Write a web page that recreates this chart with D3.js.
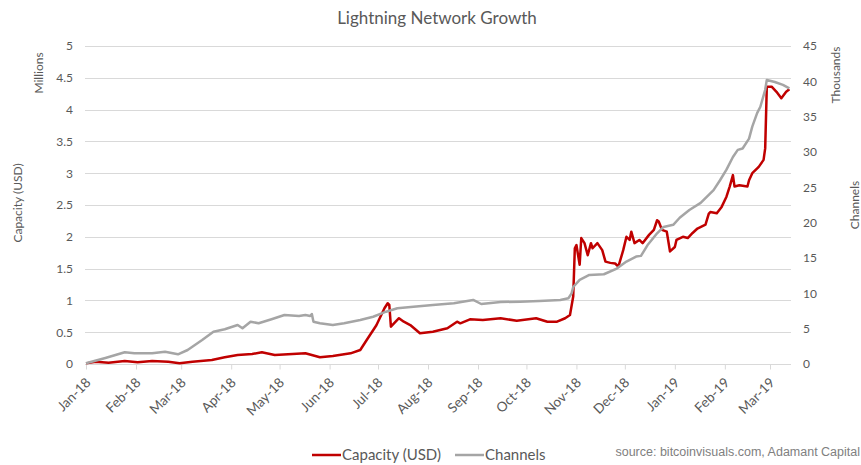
<!DOCTYPE html>
<html>
<head>
<meta charset="utf-8">
<script src="https://cdn.jsdelivr.net/npm/d3@7"></script>
<style>
  html, body { margin: 0; padding: 0; background: #ffffff; }
  svg { display: block; }
</style>
</head>
<body>
<svg id="chart" width="861" height="465"></svg>
<script>
// Lightning Network capacity (USD, millions) and open channels (thousands)
const capacityDates = [
  "2018-01-01","2018-01-07","2018-01-15","2018-01-25","2018-02-02","2018-02-11","2018-02-21","2018-02-28",
  "2018-03-08","2018-03-20","2018-03-28","2018-04-05","2018-04-14","2018-04-20","2018-04-28","2018-05-09",
  "2018-05-17","2018-05-26","2018-06-03","2018-06-14","2018-06-20","2018-06-24","2018-06-30","2018-07-05",
  "2018-07-07","2018-07-08","2018-07-09","2018-07-14","2018-07-17","2018-07-21","2018-07-27","2018-08-04",
  "2018-08-13","2018-08-19","2018-08-21","2018-08-27","2018-09-04","2018-09-15","2018-09-25","2018-10-07",
  "2018-10-14","2018-10-20","2018-10-25","2018-10-28","2018-10-30","2018-10-31","2018-11-01","2018-11-03",
  "2018-11-04","2018-11-06","2018-11-08","2018-11-10","2018-11-11","2018-11-14","2018-11-17","2018-11-19",
  "2018-11-22","2018-11-25","2018-11-27","2018-11-30","2018-12-02","2018-12-04","2018-12-05","2018-12-07",
  "2018-12-10","2018-12-12","2018-12-16","2018-12-19","2018-12-21","2018-12-22","2018-12-24","2018-12-27",
  "2018-12-29","2019-01-01","2019-01-02","2019-01-06","2019-01-09","2019-01-12","2019-01-15","2019-01-20",
  "2019-01-22","2019-01-23","2019-01-27","2019-01-30","2019-02-02","2019-02-04","2019-02-06","2019-02-07",
  "2019-02-10","2019-02-15","2019-02-16","2019-02-18","2019-02-22","2019-02-25","2019-02-26","2019-02-27",
  "2019-03-02","2019-03-05","2019-03-08","2019-03-11","2019-03-13"
];
const capacityValues = [
  0.01,0.036,0.02,0.047,0.027,0.047,0.036,0.011,
  0.036,0.063,0.105,0.142,0.157,0.184,0.142,0.157,
  0.168,0.105,0.126,0.168,0.22,0.377,0.61,0.876,
  0.955,0.93,0.586,0.72,0.665,0.613,0.483,0.508,
  0.561,0.665,0.64,0.703,0.692,0.719,0.681,0.719,
  0.665,0.665,0.719,0.77,1.06,1.82,1.87,1.56,
  1.98,1.90,1.71,1.90,1.82,1.90,1.79,1.61,
  1.59,1.58,1.53,1.79,2.00,1.95,2.08,1.90,
  1.95,1.90,2.03,2.11,2.26,2.24,2.11,2.08,
  1.77,1.84,1.95,2.00,1.98,2.06,2.13,2.19,
  2.36,2.39,2.37,2.47,2.63,2.79,2.97,2.79,
  2.81,2.79,2.89,3.00,3.10,3.21,3.39,4.36,
  4.36,4.28,4.18,4.28,4.32
];

const channelDates = [
  "2018-01-01","2018-01-13","2018-01-25","2018-01-31","2018-02-11","2018-02-19","2018-02-27","2018-03-05",
  "2018-03-14","2018-03-21","2018-03-28","2018-04-05","2018-04-08","2018-04-13","2018-04-18","2018-04-26",
  "2018-05-04","2018-05-13","2018-05-17","2018-05-20","2018-05-21","2018-05-22","2018-05-26","2018-06-03",
  "2018-06-10","2018-06-20","2018-06-28","2018-07-06","2018-07-13","2018-07-23","2018-08-04","2018-08-17",
  "2018-08-29","2018-09-03","2018-09-15","2018-09-27","2018-10-09","2018-10-22","2018-10-27","2018-10-29",
  "2018-10-30","2018-11-03","2018-11-09","2018-11-18","2018-11-26","2018-12-02","2018-12-08","2018-12-11",
  "2018-12-15","2018-12-21","2018-12-25","2018-12-31","2019-01-04","2019-01-10","2019-01-17","2019-01-25",
  "2019-01-29","2019-02-02","2019-02-06","2019-02-09","2019-02-12","2019-02-16","2019-02-18","2019-02-21",
  "2019-02-23","2019-02-26","2019-02-27","2019-03-04","2019-03-09","2019-03-13"
];
const channelValues = [
  0.1,0.85,1.66,1.51,1.51,1.74,1.37,1.98,
  3.40,4.57,4.91,5.52,5.05,5.99,5.76,6.33,
  6.93,6.79,6.93,6.79,7.08,5.99,5.76,5.52,
  5.76,6.23,6.69,7.40,7.88,8.11,8.35,8.59,
  9.06,8.49,8.77,8.82,8.92,9.06,9.30,10.0,
  10.9,11.9,12.6,12.7,13.5,14.5,15.2,15.3,
  16.8,18.5,19.4,19.7,20.7,21.8,22.8,24.6,
  26.0,27.5,29.3,30.3,30.5,31.9,33.6,35.5,
  36.4,38.8,40.2,39.9,39.5,39.0
];

const capacityTicks = [0, 0.5, 1, 1.5, 2, 2.5, 3, 3.5, 4, 4.5, 5];
const channelTicks = [0, 5, 10, 15, 20, 25, 30, 35, 40, 45];
const seriesNames = ["Capacity (USD)", "Channels"];
const chartTitle = "Lightning Network Growth";
const sourceNote = "source: bitcoinvisuals.com, Adamant Capital";

const parse = d3.timeParse("%Y-%m-%d");
const capacity = capacityDates.map((d, i) => ({ date: parse(d), value: capacityValues[i] }));
const channels = channelDates.map((d, i) => ({ date: parse(d), value: channelValues[i] }));

const RED = "#C00000";
const GREY = "#A5A5A5";
const TEXT = "#595959";
const FONT = "Lato, 'Open Sans', sans-serif";

const svg = d3.select("#chart");
const plot = { left: 86, right: 791, top: 46, bottom: 364 };

const x = d3.scaleTime()
  .domain([parse("2018-01-01"), parse("2019-03-14")])
  .range([plot.left, plot.right]);
const yL = d3.scaleLinear().domain([0, 5]).range([plot.bottom, plot.top]);
const yR = d3.scaleLinear().domain([0, 45]).range([plot.bottom, plot.top]);

// horizontal gridlines (primary axis)
svg.append("g")
  .selectAll("line")
  .data(capacityTicks)
  .join("line")
  .attr("x1", plot.left - 1)
  .attr("x2", plot.right)
  .attr("y1", d => Math.round(yL(d)) + 0.5)
  .attr("y2", d => Math.round(yL(d)) + 0.5)
  .attr("stroke", "#D9D9D9")
  .attr("stroke-width", 1);

// left axis labels
const leftAxis = d3.axisLeft(yL).tickValues(capacityTicks).tickSize(0).tickPadding(0)
  .tickFormat(d3.format("~g"));
svg.append("g")
  .attr("transform", `translate(${plot.left - 13},0)`)
  .call(leftAxis)
  .call(g => g.select(".domain").remove())
  .call(g => g.selectAll("text").attr("fill", TEXT).attr("font-family", FONT).attr("font-size", 12));

// right axis labels
const rightAxis = d3.axisRight(yR).tickValues(channelTicks).tickSize(0).tickPadding(0)
  .tickFormat(d3.format("~g"));
svg.append("g")
  .attr("transform", `translate(${plot.right + 12},0)`)
  .call(rightAxis)
  .call(g => g.select(".domain").remove())
  .call(g => g.selectAll("text").attr("fill", TEXT).attr("font-family", FONT).attr("font-size", 12));

// bottom date axis
const months = d3.timeMonth.range(parse("2018-01-01"), parse("2019-03-02"));
const bottomAxis = d3.axisBottom(x).tickValues(months).tickSize(5).tickPadding(0)
  .tickFormat(d3.timeFormat("%b-%y"));
svg.append("g")
  .attr("transform", `translate(0,${plot.bottom + 0.5})`)
  .call(bottomAxis)
  .call(g => g.select(".domain")
    .attr("d", `M${plot.left},0H${plot.right}`)
    .attr("stroke", "#D9D9D9"))
  .call(g => g.selectAll(".tick line").attr("stroke", "#D9D9D9"))
  .call(g => g.selectAll("text")
    .attr("fill", TEXT)
    .attr("font-family", FONT)
    .attr("font-size", 13.5)
    .attr("text-anchor", "end")
    .attr("dy", 0)
    .attr("y", 0)
    .attr("transform", "translate(5,19) rotate(-45)"));

// series lines
const lineCap = d3.line().x(d => x(d.date)).y(d => yL(d.value));
const lineCh = d3.line().x(d => x(d.date)).y(d => yR(d.value));

svg.append("path")
  .datum(capacity)
  .attr("d", lineCap)
  .attr("fill", "none")
  .attr("stroke", RED)
  .attr("stroke-width", 2.5)
  .attr("stroke-linejoin", "round");

svg.append("path")
  .datum(channels)
  .attr("d", lineCh)
  .attr("fill", "none")
  .attr("stroke", GREY)
  .attr("stroke-width", 2.5)
  .attr("stroke-linejoin", "round");

// title
svg.append("text")
  .attr("x", 437).attr("y", 24)
  .attr("text-anchor", "middle")
  .attr("fill", TEXT)
  .attr("font-family", FONT)
  .attr("font-size", 17)
  .text(chartTitle);

// axis titles
function vText(xPos, yPos, str, size) {
  svg.append("text")
    .attr("transform", `translate(${xPos},${yPos}) rotate(-90)`)
    .attr("text-anchor", "middle")
    .attr("fill", TEXT)
    .attr("font-family", FONT)
    .attr("font-size", size)
    .text(str);
}
vText(22, 203, "Capacity (USD)", 12);
vText(43, 73, "Millions", 12);
vText(840, 75, "Thousands", 12);
vText(859, 205, "Channels", 12);

// legend
const legend = svg.append("g").attr("transform", "translate(0,455)");
const legendItems = [
  { name: seriesNames[0], color: RED, x: 312 },
  { name: seriesNames[1], color: GREY, x: 455 }
];
legendItems.forEach(item => {
  legend.append("line")
    .attr("x1", item.x).attr("x2", item.x + 29)
    .attr("y1", 0).attr("y2", 0)
    .attr("stroke", item.color)
    .attr("stroke-width", 2.5);
  legend.append("text")
    .attr("x", item.x + 30).attr("y", 5)
    .attr("fill", TEXT)
    .attr("font-family", FONT)
    .attr("font-size", 15)
    .text(item.name);
});

// source note
svg.append("text")
  .attr("x", 860).attr("y", 456)
  .attr("text-anchor", "end")
  .attr("fill", "#808080")
  .attr("font-family", "'Liberation Sans', Arial, sans-serif")
  .attr("font-size", 12.5)
  .text(sourceNote);
</script>
</body>
</html>
